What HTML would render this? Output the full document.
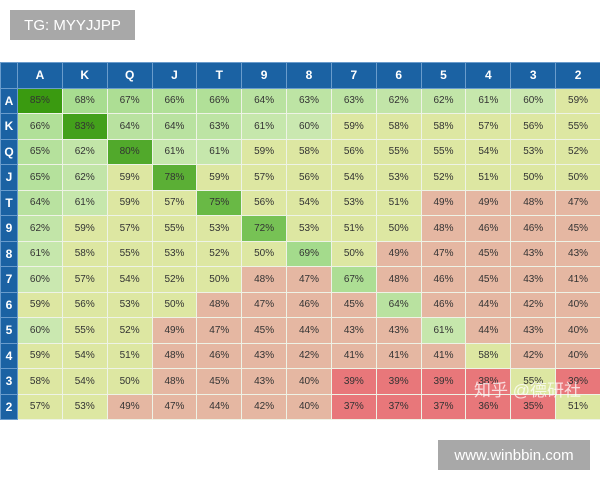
<!DOCTYPE html>
<html><head><meta charset="utf-8"><style>
body{margin:0;width:600px;height:480px;background:#fff;position:relative;overflow:hidden;font-family:"Liberation Sans",sans-serif}
.box{position:absolute;background:#a8a8a8;color:#fff;font-size:15px;display:flex;align-items:center;justify-content:center}
table{position:absolute;left:0;top:62px;border-collapse:collapse;table-layout:fixed;width:601px}
td,th{padding:0;text-align:center;border:1px solid #eef3e6;font-size:10px;color:#333;height:24.5px}
th{background:#1b62a3;color:#fff;font-size:12px;font-weight:bold;border-color:#6a9ccc}
.wm{position:absolute;left:474px;top:376px;font-size:17px;color:rgba(255,255,255,0.75);font-family:"Liberation Sans","Noto Sans CJK SC",sans-serif;letter-spacing:0px}
</style></head><body>
<div class="box" style="left:10px;top:10px;width:125px;height:30px">TG: MYYJJPP</div>
<table id="t"></table>
<div class="wm">知乎 @德研社</div>
<div class="box" style="left:438px;top:440px;width:152px;height:30px">www.winbbin.com</div>
<script>
var L="AKQJT98765432".split("");
var D=[[85,68,67,66,66,64,63,63,62,62,61,60,59],[66,83,64,64,63,61,60,59,58,58,57,56,55],[65,62,80,61,61,59,58,56,55,55,54,53,52],[65,62,59,78,59,57,56,54,53,52,51,50,50],[64,61,59,57,75,56,54,53,51,49,49,48,47],[62,59,57,55,53,72,53,51,50,48,46,46,45],[61,58,55,53,52,50,69,50,49,47,45,43,43],[60,57,54,52,50,48,47,67,48,46,45,43,41],[59,56,53,50,48,47,46,45,64,46,44,42,40],[60,55,52,49,47,45,44,43,43,61,44,43,40],[59,54,51,48,46,43,42,41,41,41,58,42,40],[58,54,50,48,45,43,40,39,39,39,38,55,39],[57,53,49,47,44,42,40,37,37,37,36,35,51]];
function mix(a,b,t){return "rgb("+a.map(function(x,i){return Math.round(x+(b[i]-x)*t)}).join(",")+")"}
function col(v){
 if(v<40)return "#e8777a";
 if(v<50)return "#e5b7a2";
 if(v<60)return "#dde7a2";
 if(v<70)return mix([202,232,176],[160,218,136],(v-60)/10);
 return mix([128,200,96],[58,154,16],(v-70)/15);
}
var h="<tr><th style='width:16px'></th>";
L.forEach(function(c){h+="<th>"+c+"</th>"});
h+="</tr>";
D.forEach(function(r,i){h+="<tr><th>"+L[i]+"</th>";r.forEach(function(v){h+="<td style='background:"+col(v)+"'>"+v+"%</td>"});h+="</tr>"});
document.getElementById("t").innerHTML=h;
</script>
</body></html>
